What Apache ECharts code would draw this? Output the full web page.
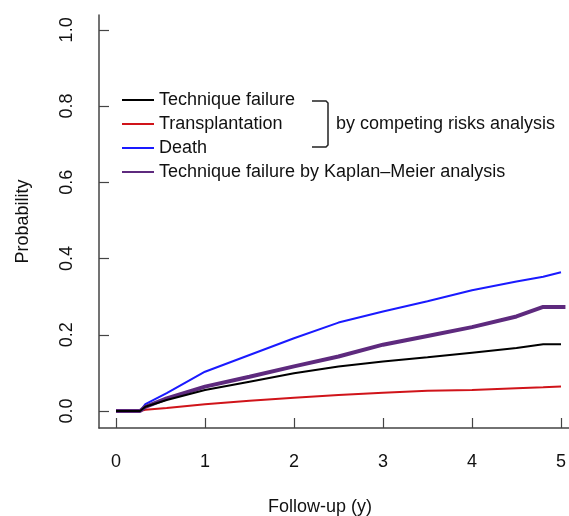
<!DOCTYPE html>
<html>
<head>
<meta charset="utf-8">
<script src="https://cdn.jsdelivr.net/npm/echarts@6/dist/echarts.min.js"></script>
<style>
  html, body { margin: 0; padding: 0; background: #fff; }
  #chart { width: 569px; height: 516px; }
</style>
</head>
<body>
<div id="chart"></div>
<script>
// follow-up times (years) and cumulative probabilities
const years = [0, 0.27, 0.33, 0.57, 1.0, 1.5, 2.0, 2.5, 3.0, 3.5, 4.0, 4.5, 4.8, 5.0];
const kmYears = [0, 0.27, 0.33, 0.57, 1.0, 1.5, 2.0, 2.5, 3.0, 3.5, 4.0, 4.5, 4.8, 5.05];

const techniqueFailure = [0, 0, 0.011, 0.029, 0.055, 0.077, 0.099, 0.117, 0.130, 0.141, 0.153, 0.165, 0.175, 0.175];
const transplantation = [0, 0, 0.003, 0.008, 0.018, 0.027, 0.035, 0.042, 0.048, 0.053, 0.055, 0.060, 0.062, 0.064];
const death = [0, 0, 0.018, 0.047, 0.103, 0.147, 0.191, 0.232, 0.261, 0.288, 0.317, 0.340, 0.352, 0.364];
const kaplanMeier = [0, 0, 0.011, 0.033, 0.064, 0.090, 0.117, 0.143, 0.174, 0.197, 0.220, 0.248, 0.273, 0.273];

const xTicks = [0, 1, 2, 3, 4, 5];
const yTicks = [0, 0.2, 0.4, 0.6, 0.8, 1.0];

const font = 'Liberation Sans, Arial, sans-serif';

function pairs(xs, ys) {
  return xs.map((x, i) => [x, ys[i]]);
}

const chart = echarts.init(document.getElementById('chart'));

chart.setOption({
  animation: false,
  grid: { left: 99, top: 15, right: 0, bottom: 88, containLabel: false, outerBoundsMode: 'none' },
  legend: {
    orient: 'vertical',
    left: 117,
    top: 86,
    itemWidth: 32,
    itemHeight: 2,
    itemGap: 6,
    icon: 'rect',
    data: ['Technique failure', 'Transplantation', 'Death', 'Technique failure by Kaplan\u2013Meier analysis'],
    textStyle: { fontFamily: font, fontSize: 18, color: '#111' },
    selectedMode: false
  },
  xAxis: {
    type: 'value',
    min: -0.191,
    max: 5.09,
    name: 'Follow-up (y)',
    nameLocation: 'middle',
    nameGap: 70,
    nameTextStyle: { fontFamily: font, fontSize: 18, color: '#111', padding: [0, 28, 0, 0] },
    splitLine: { show: false },
    axisLine: { onZero: false, lineStyle: { color: '#444', width: 1.5 } },
    axisTick: { inside: true, length: 10, customValues: xTicks, lineStyle: { color: '#444', width: 1.2 } },
    axisLabel: { customValues: xTicks, margin: 25, fontFamily: font, fontSize: 18, color: '#111' }
  },
  yAxis: {
    type: 'value',
    min: -0.0446,
    max: 1.039,
    name: 'Probability',
    nameLocation: 'middle',
    nameGap: 67,
    nameTextStyle: { fontFamily: font, fontSize: 18, color: '#111' },
    splitLine: { show: false },
    axisLine: { show: true, onZero: false, lineStyle: { color: '#444', width: 1.5 } },
    axisTick: { show: true, inside: true, length: 10, customValues: yTicks, lineStyle: { color: '#444', width: 1.2 } },
    axisLabel: {
      customValues: yTicks,
      rotate: 90,
      margin: 23,
      fontFamily: font,
      fontSize: 18,
      color: '#111',
      formatter: v => v.toFixed(1)
    }
  },
  graphic: [
    {
      type: 'polyline',
      shape: { points: [[312, 101], [326, 101], [328, 103], [328, 145], [326, 147], [312, 147]] },
      style: { stroke: '#222', lineWidth: 1.5, fill: null }
    },
    {
      type: 'text',
      left: 336,
      top: 115,
      style: { text: 'by competing risks analysis', font: '18px ' + font, fill: '#111' }
    }
  ],
  series: [
    {
      name: 'Technique failure',
      type: 'line',
      data: pairs(years, techniqueFailure),
      showSymbol: false,
      color: '#000',
      lineStyle: { width: 2 },
      z: 4
    },
    {
      name: 'Transplantation',
      type: 'line',
      data: pairs(years, transplantation),
      showSymbol: false,
      color: '#d0141a',
      lineStyle: { width: 2 },
      z: 3
    },
    {
      name: 'Death',
      type: 'line',
      data: pairs(years, death),
      showSymbol: false,
      color: '#1a1aff',
      lineStyle: { width: 2 },
      z: 2
    },
    {
      name: 'Technique failure by Kaplan\u2013Meier analysis',
      type: 'line',
      data: pairs(kmYears, kaplanMeier),
      showSymbol: false,
      color: '#5e2a7e',
      lineStyle: { width: 4 },
      z: 3
    }
  ]
});
</script>
</body>
</html>
